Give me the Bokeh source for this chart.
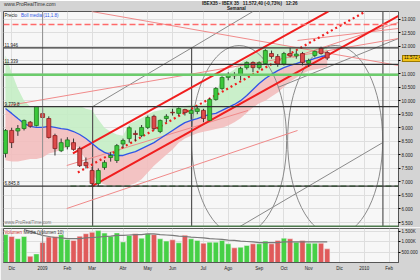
import numpy as np
from bokeh.plotting import figure
from bokeh.layouts import column
from bokeh.models import ColumnDataSource, FixedTicker, Span, Label, Range1d, Div
from bokeh.embed import file_html
from bokeh.resources import INLINE

FONT = "Liberation Sans"

# ---- weekly bars, index 0 = week of 24 Nov 2008 ----
opens = [8050, 8900, 8880, 8970, 9205, 9080, 9520, 9340, 8710, 8150,
         8300, 8450, 8230, 7720, 7420, 6940, 7530, 7900, 7790, 8400,
         8600, 8790, 8710, 9010, 9420, 8860, 9340, 9570, 9530, 9670,
         9530, 9600, 9640, 9270, 10040, 10450, 10860, 10950, 10930, 11220,
         11410, 11220, 11370, 11740, 11630, 11350, 11740, 11650, 11740, 11380,
         11670, 11930, 11780]
highs = [8950, 9000, 9100, 9300, 9250, 9779.8, 9720, 9420, 8780, 8600,
         8650, 8600, 8300, 7900, 7550, 7500, 7800, 8100, 8400, 8600,
         9050, 8900, 9100, 9450, 9480, 9300, 9500, 9700, 9750, 9700,
         9700, 9780, 9700, 10100, 10500, 10900, 11050, 11050, 11250, 11450,
         11450, 11450, 11900, 11850, 11720, 11800, 11946, 11850, 11800, 11550,
         11850, 11990, 11830]
lows = [7900, 8250, 8700, 8900, 9000, 9050, 9350, 8600, 7975, 8100,
        8200, 8150, 7550, 7500, 6845.8, 6850, 7450, 7750, 7700, 8250,
        8450, 8500, 8650, 8950, 8900, 8800, 9200, 9450, 9450, 9450,
        9300, 9500, 9200, 9250, 10000, 10400, 10750, 10800, 10750, 11150,
        11050, 11150, 11350, 11550, 11250, 11300, 11600, 11550, 11300, 11250,
        11600, 11700, 11500]
closes = [8900, 8450, 8970, 9270, 9057, 9785, 9378, 8640, 8230, 8450,
          8550, 8200, 7600, 7600, 6940, 7420, 7720, 7975, 8340, 8530,
          9000, 8750, 9010, 9380, 8970, 9270, 9420, 9550, 9710, 9560,
          9640, 9700, 9340, 10040, 10450, 10860, 10970, 10920, 11190, 11410,
          11220, 11400, 11850, 11630, 11350, 11740, 11650, 11720, 11410, 11480,
          11820, 11740, 11572.4]
volumes_m = [1.33, 1.24, 1.13, 1.24, 0.30, 0.41, 0.95, 1.21, 1.24, 1.32,
             1.10, 1.05, 1.25, 1.37, 1.44, 1.52, 1.40, 1.25, 1.41, 0.98,
             1.29, 1.37, 1.16, 1.37, 1.33, 1.13, 1.02, 1.08, 0.94, 1.30,
             1.13, 1.05, 0.92, 0.97, 0.97, 1.05, 0.89, 0.70, 0.73, 0.81,
             0.89, 0.89, 1.02, 0.89, 1.05, 1.16, 1.13, 0.97, 1.05, 0.92,
             0.92, 0.92, 0.65]
vol_ma_m = [np.nan, np.nan, np.nan, 1.57, 1.48, 1.38, 1.29, 1.24, 1.19, 1.17,
            1.14, 1.14, 1.14, 1.17, 1.19, 1.21, 1.24, 1.26, 1.29, 1.29,
            1.31, 1.33, 1.33, 1.36, 1.36, 1.33, 1.31, 1.29, 1.26, 1.24,
            1.21, 1.19, 1.17, 1.14, 1.12, 1.10, 1.07, 1.05, 1.02, 1.00,
            0.98, 0.95, 0.95, 0.95, 0.95, 0.98, 0.98, 0.98, 0.98, 0.98,
            0.98, 0.98, 0.98]
boll_mid = [9710, 9530, 9340, 9160, 9050, 9010, 9010, 9050, 9010, 8970,
            8940, 8860, 8750, 8600, 8420, 8230, 8090, 8010, 7975, 7975,
            8050, 8120, 8230, 8340, 8450, 8600, 8750, 8900, 9050, 9190,
            9270, 9340, 9420, 9490, 9530, 9640, 9750, 9860, 10000, 10190,
            10410, 10630, 10820, 10970, 11110, 11220, 11300, 11370, 11450, 11480,
            11560, 11630, 11670]
boll_up = [11670, 11040, 10450, 10000, 9780, 9800, 9800, 9800, 9800, 9800,
           9800, 9800, 9800, 9700, 9650, 9300, 9000, 8850, 8750, 8700,
           9150, 9250, 9350, 9500, 9600, 9650, 9700, 9750, 9800, 9800,
           9850, 9850, 9850, 9950, 10350, 10800, 11000, 11150, 11400, 11550,
           11700, 11800, 12000, 12050, 12050, 12050, 12000, 11980, 11950, 11930,
           11950, 11980, 11980]
boll_low = [7800, 7750, 7750, 7800, 7850, 7850, 7900, 8050, 8100, 8200,
            8300, 8400, 8200, 7800, 7300, 7000, 6900, 6850, 6850, 6850,
            6880, 6950, 7100, 7350, 7600, 7800, 8000, 8200, 8450, 8600,
            8700, 8800, 8850, 8900, 8950, 9000, 9080, 9200, 9350, 9550,
            9750, 9900, 10000, 10150, 10300, 10500, 10700, 10850, 11000, 11100,
            11150, 11200, 11250]

month_ticks = [1, 6, 10, 14, 19, 23, 27, 32, 36, 41, 45, 49, 54, 58, 62]
month_labels = ["Dic", "2009", "Feb", "Mar", "Abr", "May", "Jun", "Jul", "Ago",
                "Sep", "Oct", "Nov", "Dic", "2010", "Feb"]
price_ticks = list(range(5500, 13001, 500))
price_tick_labels = ["5.500", "6.000", "6.500", "7.000", "7.500", "8.000", "8.500",
                     "9.000", "9.500", "10.000", "10.500", "11.000", "11.500",
                     "12.000", "12.500", "13.000"]
vol_ticks = [500000, 1000000, 1500000]
vol_tick_labels = ["500.000", "1.000K", "1.500K"]

# ---- drawing objects (bar index, price) ----
level_prices = [11946, 11339, 9779.8, 6845.8]
level_labels = ["11.946", "11.339", "9.779,8", "6.845,8"]
green_level = 10960
red_dash_level = 12812
dkgreen_level = 5360
thick_x0 = [10.9, 14.0]; thick_y0 = [8050, 6840]
thick_x1 = [52.2, 63.6]; thick_y1 = [13295, 13139]
dot_x0 = [11.7]; dot_y0 = [7347]; dot_x1 = [57.9]; dot_y1 = [13256]
thin_x0 = [0.5, 13.9, 9.9, 9.9, 46.4, 47.2]
thin_y0 = [9821, 13293, 6017, 7605, 11594, 12222]
thin_x1 = [63.5, 63.5, 47.2, 39.2, 63.5, 63.5]
thin_y1 = [12295, 11298, 8898, 9637, 12886, 12665]
gray_x0 = [14.08, 37.9, 44.0]; gray_y0 = [9779.8, 5353, 10486]
gray_x1 = [40.0, 61.0, 63.5]; gray_y1 = [13293, 8455, 12295]
vert_x = [14.08, 30.08, 61.0]; vert_top = [9779.8, 11946, 13292]
circ_x = [37.76, 53.28]; circ_y = [8529, 8529]; circ_w = [15.36, 15.36]; circ_h = [7017, 7017]

GREEN, GREEN_L = "#3cc83c", "#1f7a1f"
RED, RED_L = "#dc4b4b", "#8a2020"
BORDER = "#d4d4d4"

n = len(closes)
idx = np.arange(n)
o = np.array(opens, float); c = np.array(closes, float)
upbar = c >= o
src = ColumnDataSource(dict(
    x=idx, h=highs, l=lows, top=np.maximum(o, c), bot=np.minimum(o, c),
    fill=[GREEN if u else RED for u in upbar], line=[GREEN_L if u else RED_L for u in upbar],
    vol=np.array(volumes_m) * 1e6,
    vfill=["#46d046" if u else "#e05a5a" for u in upbar]))

xr = Range1d(-0.32, 63.52)
p = figure(width=420, height=216, x_range=xr, y_range=Range1d(5316, 13292),
           output_backend="svg", toolbar_location=None, x_axis_location=None,
           y_axis_location="right", min_border_top=0, min_border_bottom=0,
           min_border_left=3, min_border_right=18, background_fill_color="#f7f7f7",
           border_fill_color=BORDER, outline_line_color="#555555")
p.yaxis.ticker = FixedTicker(ticks=price_ticks)
p.yaxis.major_label_overrides = {t: s for t, s in zip(price_ticks, price_tick_labels)}
p.ygrid.ticker = FixedTicker(ticks=price_ticks)
p.xgrid.ticker = FixedTicker(ticks=month_ticks)
for g in (p.xgrid, p.ygrid):
    g.grid_line_color = "#dedede"
for ax in p.yaxis:
    ax.major_label_text_font = FONT
    ax.major_label_text_font_size = "4.5px"
    ax.major_label_text_color = "#222222"
    ax.major_tick_out = 2
    ax.major_tick_in = 0
    ax.minor_tick_line_color = None
    ax.major_label_standoff = 1
    ax.axis_line_color = "#555555"

p.add_layout(Span(location=month_ticks[1], dimension="height", line_color="#8f8f8f", line_width=1))

p.varea(x=idx, y1=boll_mid, y2=boll_up, fill_color="#c4edc4", fill_alpha=0.9)
p.varea(x=idx, y1=boll_low, y2=boll_mid, fill_color="#f2bcbc", fill_alpha=0.9)

# horizontal drawings
p.add_layout(Span(location=red_dash_level, dimension="width", line_color="#ff6a6a",
                  line_width=1.3, line_dash="6 3"))
p.add_layout(Span(location=green_level, dimension="width", line_color="#6ccc6c", line_width=2.5))
p.add_layout(Span(location=dkgreen_level, dimension="width", line_color="#4d7a4d", line_width=1.5))
for lv in level_prices:
    p.add_layout(Span(location=lv, dimension="width", line_color="#333333", line_width=1.3))
p.segment(x0=[10.5], y0=[level_prices[3]], x1=[63.5], y1=[level_prices[3]],
          line_color="#3f8f3f", line_width=1.3, line_dash="6 3")

p.ellipse(x=circ_x, y=circ_y, width=circ_w, height=circ_h, fill_color=None,
          line_color="#8a8a8a", line_width=1)
p.segment(x0=gray_x0, y0=gray_y0, x1=gray_x1, y1=gray_y1, line_color="#8a8a8a", line_width=1)
p.segment(x0=vert_x, y0=[5316] * 3, x1=vert_x, y1=vert_top, line_color="#555555", line_width=1.2)
p.segment(x0=thin_x0, y0=thin_y0, x1=thin_x1, y1=thin_y1, line_color="#f08a8a", line_width=1)
p.segment(x0=thick_x0, y0=thick_y0, x1=thick_x1, y1=thick_y1, line_color="#f01e1e", line_width=2)
p.segment(x0=dot_x0, y0=dot_y0, x1=dot_x1, y1=dot_y1, line_color="#f01e1e", line_width=2.2,
          line_dash="2 3")

p.line(idx, boll_mid, line_color="#2f55e6", line_width=1.3)
p.segment(x0="x", y0="h", x1="x", y1="l", source=src, line_color="#333333", line_width=1)
p.vbar(x="x", width=0.64, top="top", bottom="bot", source=src, fill_color="fill",
       line_color="line", line_width=0.8)

for lv, lb in zip(level_prices, level_labels):
    p.add_layout(Label(x=-0.15, y=lv, text=lb, text_font=FONT, text_font_size="4.5px",
                       text_color="#222222", y_offset=1, text_baseline="bottom"))
p.add_layout(Label(x=-0.15, y=13292, text="Precio", text_font=FONT, text_font_size="4.5px",
                   text_color="#222222", y_offset=-1.5, text_baseline="top"))
p.add_layout(Label(x=2.5, y=13292, text="Boll media (11,1.8)", text_font=FONT,
                   text_font_size="4.5px", text_color="#2f55e6", y_offset=-1.5,
                   text_baseline="top"))
p.add_layout(Label(x=-0.15, y=5316, text="www.ProRealTime.com", text_font=FONT,
                   text_font_size="4.5px", text_color="#777777", y_offset=3,
                   text_baseline="bottom"))

# ---- volume panel ----
p2 = figure(width=420, height=53, x_range=xr, y_range=Range1d(0, 1.62e6),
            output_backend="svg", toolbar_location=None, y_axis_location="right",
            min_border_top=1, min_border_bottom=18, min_border_left=3, min_border_right=18,
            background_fill_color="#f7f7f7", border_fill_color=BORDER,
            outline_line_color="#555555")
p2.xaxis.ticker = FixedTicker(ticks=month_ticks)
p2.xaxis.major_label_overrides = {t: s for t, s in zip(month_ticks, month_labels)}
p2.yaxis.ticker = FixedTicker(ticks=vol_ticks)
p2.yaxis.major_label_overrides = {t: s for t, s in zip(vol_ticks, vol_tick_labels)}
p2.xgrid.ticker = FixedTicker(ticks=month_ticks)
p2.ygrid.ticker = FixedTicker(ticks=vol_ticks)
for g in (p2.xgrid, p2.ygrid):
    g.grid_line_color = "#dedede"
for ax in list(p2.xaxis) + list(p2.yaxis):
    ax.major_label_text_font = FONT
    ax.major_label_text_font_size = "4.5px"
    ax.major_label_text_color = "#222222"
    ax.minor_tick_line_color = None
    ax.axis_line_color = "#555555"
    ax.major_label_standoff = 1
for ax in p2.xaxis:
    ax.major_tick_out = 0
    ax.major_tick_in = 0
    ax.major_label_standoff = 3
for ax in p2.yaxis:
    ax.major_tick_out = 2
    ax.major_tick_in = 0
p2.add_layout(Span(location=month_ticks[1], dimension="height", line_color="#8f8f8f", line_width=1))
p2.vbar(x="x", width=0.86, top="vol", bottom=0, source=src, fill_color="vfill",
        line_color="#f0f0f0", line_width=0.5)
p2.line(idx, np.array(vol_ma_m) * 1e6, line_color="#7a7a7a", line_width=1.2)
p2.add_layout(Label(x=-0.15, y=1.62e6, text="Volumen", text_font=FONT, text_font_size="4.5px",
                    text_color="#cc3333", y_offset=-1, text_baseline="top"))
p2.add_layout(Label(x=2.9, y=1.62e6, text="Media (Volumen 10)", text_font=FONT,
                    text_font_size="4.5px", text_color="#333333", y_offset=-1,
                    text_baseline="top"))

# ---- header (real text) ----
header_html = (
    "<div style=\"position:relative;width:420px;height:11px;background:%s;"
    "font-family:'Liberation Sans',sans-serif;color:#222;overflow:visible;\">"
    "<span style=\"position:absolute;left:4px;top:1px;font-size:5px;line-height:5px;"
    "white-space:nowrap;color:#333;\">www.ProRealTime.com</span>"
    "<span style=\"position:absolute;left:202px;top:0px;font-size:4.6px;line-height:5px;"
    "font-weight:bold;white-space:nowrap;\">IBEX35 - IBEX 35 &nbsp; 11.572,40 (-0,73%%) &nbsp; 12:26</span>"
    "<span style=\"position:absolute;left:227px;top:5px;font-size:4.6px;line-height:5px;"
    "font-weight:bold;white-space:nowrap;\">Semanal</span>"
    "</div>" % BORDER)
header = Div(text=header_html, width=420, height=11, margin=(0, 0, 0, 0),
             styles={"overflow": "visible"})

badge_html = (
    "<div style=\"position:relative;width:0px;height:0px;overflow:visible;\">"
    "<span style=\"position:absolute;left:402px;top:-237px;background:#f2c318;"
    "border:1px solid #9c7a00;font-family:'Liberation Sans',sans-serif;font-size:4.5px;"
    "line-height:4.5px;padding:0 1px;white-space:nowrap;color:#111;z-index:50;\">11.572,4</span>"
    "</div>")
badge = Div(text=badge_html, width=420, height=0, margin=(0, 0, 0, 0),
            styles={"overflow": "visible", "z-index": "50"})

layout = column(header, p, p2, badge, spacing=0)
open("out.html", "w").write(file_html(layout, INLINE))
